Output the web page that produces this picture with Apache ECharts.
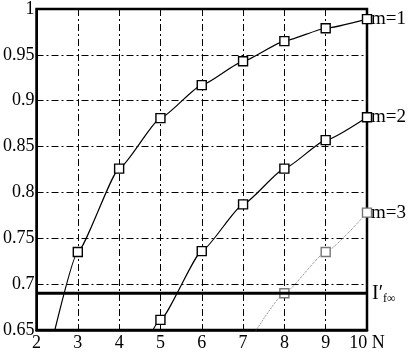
<!DOCTYPE html>
<html><head><meta charset="utf-8">
<script src="https://cdn.jsdelivr.net/npm/echarts@6/dist/echarts.min.js"></script>
<style>html,body{margin:0;padding:0;background:#fff}#c{width:410px;height:354px}</style>
</head><body><div id="c"></div>
<script>
const N = [2, 3, 4, 5, 6, 7, 8, 9, 10];
const m1 = [0.565, 0.735, 0.826, 0.881, 0.917, 0.943, 0.965, 0.979, 0.989];
const m2 = [null, null, 0.57, 0.661, 0.736, 0.787, 0.826, 0.857, 0.882];
const m3 = [null, null, null, null, null, 0.627, 0.690, 0.735, 0.778];
const threshold = 0.69;
const seriesNames = ['m=1', 'm=2', 'm=3'];
const yTicks = [0.65, 0.7, 0.75, 0.8, 0.85, 0.9, 0.95, 1];

const pairs = arr => N.map((x, i) => arr[i] == null ? null : [x, arr[i]]).filter(p => p);
const serif = '"Liberation Serif", "DejaVu Serif", serif';
const grid = { left: 34, right: 43, top: 3, bottom: 24 };
const dashDot = [7, 3, 2, 3];

function curve(name, data, color, lineType, width) {
  return {
    type: 'line', name, data: pairs(data), clip: true,
    smooth: 0.15, smoothMonotone: 'x',
    symbol: 'rect', symbolSize: 9,
    itemStyle: { color: '#fff', borderColor: color, borderWidth: 1.4 },
    lineStyle: { color, width, type: lineType },
    endLabel: { show: true, formatter: name, color: '#000', fontFamily: serif, fontSize: 19, distance: 4 },
    z: 3
  };
}

const chart = echarts.init(document.getElementById('c'), null, { renderer: 'canvas' });
chart.setOption({
  animation: false,
  backgroundColor: '#fff',
  grid: Object.assign({ show: true, borderColor: '#000', borderWidth: 2.5, backgroundColor: 'transparent' }, grid),
  xAxis: {
    type: 'value', min: 2, max: 10, interval: 1,
    axisLine: { show: true, lineStyle: { color: '#000', width: 2.5 } },
    axisTick: { show: false },
    axisLabel: { color: '#000', fontFamily: serif, fontSize: 18, margin: 4,
      formatter: v => v === 10 ? '10 N' : String(v) },
    splitLine: { show: true, lineStyle: { color: '#000', width: 1, type: dashDot } }
  },
  yAxis: {
    type: 'value', min: 0.65, max: 1, interval: 0.05,
    axisLine: { show: true, lineStyle: { color: '#000', width: 2 } },
    axisTick: { show: false },
    axisLabel: { color: '#000', fontFamily: serif, fontSize: 18, margin: 2,
      formatter: v => { const t = yTicks.find(k => Math.abs(k - v) < 1e-6); return t === undefined ? '' : String(t); } },
    splitLine: { show: true, lineStyle: { color: '#000', width: 1, type: dashDot } }
  },
  series: [
    curve(seriesNames[0], m1, '#000', 'solid', 1.2),
    curve(seriesNames[1], m2, '#000', 'solid', 1.2),
    curve(seriesNames[2], m3, '#777', 'dotted', 1),
    {
      type: 'line', name: 'threshold', data: [[N[0], threshold], [N[N.length - 1], threshold]],
      symbol: 'none', lineStyle: { color: '#000', width: 3 }, z: 4,
      endLabel: { show: true, distance: 5, formatter: '{a|I′}{b|f∞}',
        rich: { a: { fontFamily: serif, fontSize: 20, color: '#000' },
                b: { fontFamily: serif, fontSize: 12, color: '#000', verticalAlign: 'bottom', padding: [12, 0, 0, 0] } } }
    }
  ]
});
</script></body></html>
